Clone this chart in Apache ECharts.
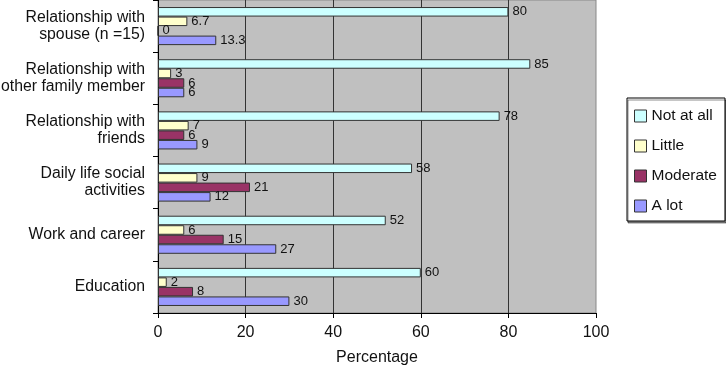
<!DOCTYPE html>
<html>
<head>
<meta charset="utf-8">
<script src="https://cdn.jsdelivr.net/npm/echarts@6/dist/echarts.min.js"></script>
<style>
  html, body { margin: 0; padding: 0; background: #fff; }
  #container { width: 726px; height: 365px; }
</style>
</head>
<body>
<div id="container"></div>
<script>
// data
var categories = [
    'Relationship with\nspouse (n =15)',
    'Relationship with\nother family member',
    'Relationship with\nfriends',
    'Daily life social\nactivities',
    'Work and career',
    'Education'
];
var seriesNames = ['Not at all', 'Little', 'Moderate', 'A lot'];
var notAtAll = [80, 85, 78, 58, 52, 60];
var little = [6.7, 3, 7, 9, 6, 2];
var moderate = [0, 6, 6, 21, 15, 8];
var aLot = [13.3, 6, 9, 12, 27, 30];
var xTicks = [0, 20, 40, 60, 80, 100];

var barColors = ['#ccffff', '#ffffcc', '#993366', '#9999ff'];
var fontName = '"Liberation Sans", Arial, sans-serif';

function makeSeries(_name, _data, _color) {
    return {
        name: _name,
        type: 'bar',
        data: _data,
        barGap: '0%',
        barCategoryGap: '27%',
        itemStyle: {
            color: _color,
            borderColor: '#333',
            borderWidth: 1
        },
        label: {
            show: true,
            position: 'right',
            distance: 4,
            color: '#111',
            fontSize: 13,
            fontFamily: fontName
        }
    };
}

var myChart = echarts.init(document.getElementById('container'), null, { renderer: 'canvas' });

var option = {
    animation: false,
    color: barColors,
    textStyle: { fontFamily: fontName },
    grid: {
        left: 158,
        right: 130,
        top: 0,
        bottom: 52,
        outerBoundsMode: 'none',
        containLabel: false,
        show: true,
        backgroundColor: '#c0c0c0',
        borderColor: '#888',
        borderWidth: 1
    },
    legend: {
        orient: 'vertical',
        left: 627,
        top: 98,
        data: seriesNames,
        icon: 'rect',
        itemWidth: 12,
        itemHeight: 12,
        itemGap: 14,
        padding: [10, 8, 7, 7],
        borderColor: '#000',
        borderWidth: 1,
        backgroundColor: '#fff',
        shadowColor: 'rgba(0,0,0,0.45)',
        shadowOffsetX: 1,
        shadowOffsetY: 2,
        itemStyle: { borderColor: '#333', borderWidth: 1 },
        textStyle: { fontSize: 15.5, color: '#111', lineHeight: 14, fontFamily: fontName }
    },
    xAxis: {
        type: 'value',
        min: xTicks[0],
        max: xTicks[xTicks.length - 1],
        interval: 20,
        name: 'Percentage',
        nameLocation: 'middle',
        nameGap: 37,
        nameTextStyle: { fontSize: 16, color: '#111', fontFamily: fontName },
        axisLine: { show: true, lineStyle: { color: '#000', width: 1 } },
        axisTick: { show: true, length: 5, lineStyle: { color: '#000' } },
        axisLabel: { fontSize: 16, color: '#111', margin: 12, fontFamily: fontName },
        splitLine: {
            show: true,
            showMinLine: false,
            showMaxLine: false,
            lineStyle: { color: '#333', width: 1 }
        }
    },
    yAxis: {
        type: 'category',
        data: categories,
        inverse: true,
        axisLine: { show: true, lineStyle: { color: '#000', width: 1 } },
        axisTick: { show: true, length: 5, lineStyle: { color: '#000' } },
        axisLabel: {
            fontSize: 15.8,
            lineHeight: 17,
            color: '#111',
            margin: 13,
            align: 'right',
            fontFamily: fontName
        },
        splitLine: { show: false }
    },
    series: [
        makeSeries(seriesNames[0], notAtAll, barColors[0]),
        makeSeries(seriesNames[1], little, barColors[1]),
        makeSeries(seriesNames[2], moderate, barColors[2]),
        makeSeries(seriesNames[3], aLot, barColors[3])
    ]
};

myChart.setOption(option);
window.addEventListener('resize', myChart.resize);
</script>
</body>
</html>
